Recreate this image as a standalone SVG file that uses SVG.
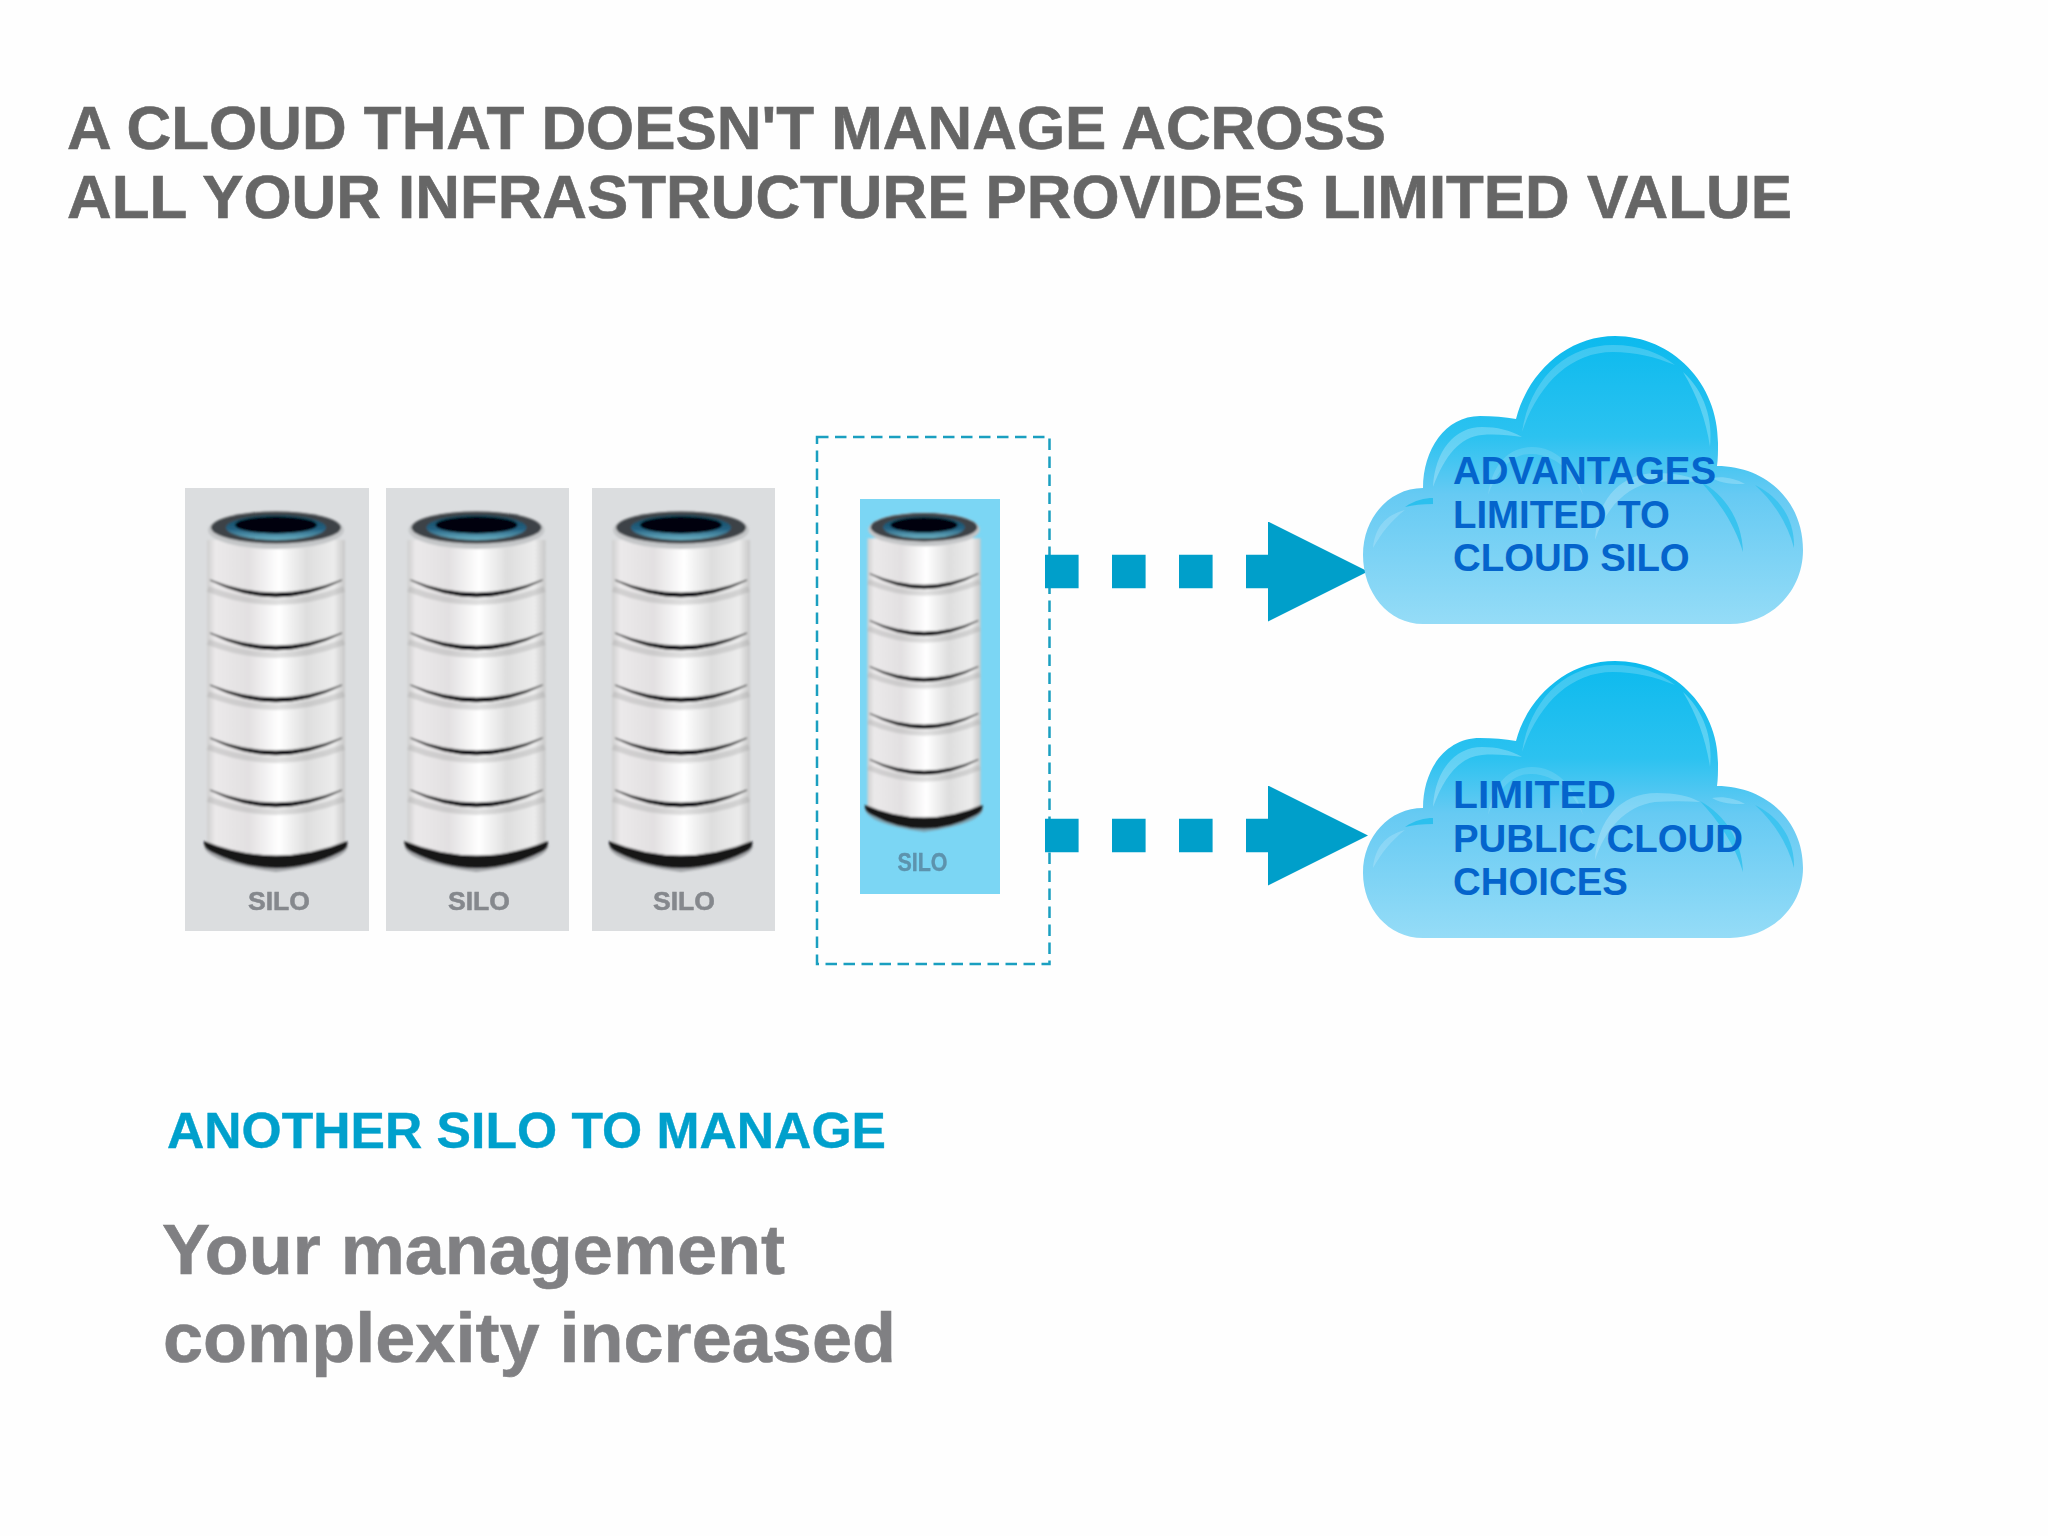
<svg xmlns="http://www.w3.org/2000/svg" xmlns:xlink="http://www.w3.org/1999/xlink" width="2048" height="1536" viewBox="0 0 2048 1536">
<style>
.t{font-family:"Liberation Sans",Arial,sans-serif;font-weight:700}
.title{font-size:61px;fill:#666666;stroke:#666666;stroke-width:.6}
.cl{font-size:38.4px;fill:#0464cc}
.sub{font-size:50px;fill:#00a0cc;stroke:#00a0cc;stroke-width:.4}
.big{font-size:71px;fill:#808083;stroke:#808083;stroke-width:.6}
.silo{font-size:25px;fill:#85888d;stroke:#85888d;stroke-width:.5}
.panel{fill:#dbdddf}
.flow{fill:none;stroke:#009fca;stroke-width:33.5;stroke-dasharray:33.6 33.4;marker-end:url(#head)}
.box{fill:none;stroke:#1a9fc0;stroke-width:2.5;stroke-dasharray:11.5 6.5}
</style>
<defs>
<marker id="head" markerUnits="userSpaceOnUse" viewBox="0 0 100 100" refX="0" refY="50" markerWidth="100" markerHeight="100" orient="auto"><path d="M0 0L100 50L0 100Z" fill="#009fca"/></marker>
<linearGradient id="metal" x1="0" x2="1" y1="0" y2="0">
<stop offset="0" stop-color="#cfcfcf"/><stop offset=".06" stop-color="#ebe9ea"/><stop offset=".3" stop-color="#e2e0e1"/><stop offset=".52" stop-color="#ffffff"/><stop offset=".72" stop-color="#dedede"/><stop offset=".92" stop-color="#ececec"/><stop offset="1" stop-color="#c8c8c8"/>
</linearGradient>
<linearGradient id="sky" x1="0" x2="0" y1="0" y2="1">
<stop offset="0" stop-color="#0cbaee"/><stop offset=".35" stop-color="#2cc2f0"/><stop offset=".55" stop-color="#66caf3"/><stop offset="1" stop-color="#95dcf7"/>
</linearGradient>
<linearGradient id="rim" x1="0" x2="0" y1="0" y2="1"><stop offset="0" stop-color="#134a5c"/><stop offset=".55" stop-color="#235f80"/><stop offset="1" stop-color="#6eb4c6"/></linearGradient>
<filter id="soft" x="-10%" y="-5%" width="120%" height="110%"><feGaussianBlur stdDeviation="1"/></filter>
<filter id="softer" x="-5%" y="-10%" width="110%" height="120%"><feGaussianBlur stdDeviation=".6"/></filter>
<g id="cyl" filter="url(#soft)">
<path d="M204 845Q276 888 348 845Q348 862 276 872Q204 862 204 845Z" fill="#7d7f82" opacity=".6"/>
<path d="M207 540H345V845Q276 882 207 845Z" fill="url(#metal)"/>
<g fill="none" stroke="#9a9a9a" stroke-width="6" opacity=".3">
<path d="M208 589Q276 615 344 589"/><path d="M208 642Q276 668 344 642"/><path d="M208 694Q276 720 344 694"/><path d="M208 747Q276 773 344 747"/><path d="M208 799Q276 825 344 799"/>
</g>
<g fill="#101012" stroke="#101012" stroke-width=".8">
<path d="M210 580Q276 606 342 580Q276 614 210 580Z"/><path d="M210 633Q276 659 342 633Q276 667 210 633Z"/><path d="M210 685Q276 711 342 685Q276 719 210 685Z"/><path d="M210 738Q276 764 342 738Q276 772 210 738Z"/><path d="M210 790Q276 816 342 790Q276 824 210 790Z"/>
</g>
<path d="M204 841Q276 870 347 841Q349 848 340 852Q276 884 212 852Q203 848 204 841Z" fill="#131316"/>
<ellipse cx="276" cy="530" rx="68" ry="19" fill="#c4c6c8"/>
<ellipse cx="276" cy="527.5" rx="65" ry="16" fill="#3e4246"/>
<ellipse cx="276" cy="527.5" rx="50" ry="12.5" fill="url(#rim)"/>
<ellipse cx="276" cy="525" rx="41" ry="8.5" fill="#01040a"/>
</g>
<g id="shine">
<path d="M1522 432C1530 380 1565 345 1613 345C1640 345 1660 353 1675 365C1655 357 1635 352 1613 352C1570 352 1538 385 1522 432Z" fill="#fff" opacity=".2"/>
<path d="M1683 372C1705 392 1713 420 1710 447C1706 420 1697 395 1683 372Z" fill="#7fdcf5" opacity=".6"/>
<path d="M1433 487C1435 450 1455 427 1482 427C1497 427 1510 430 1522 437C1508 435 1495 434 1482 435C1460 437 1445 455 1433 487Z" fill="#fff" opacity=".25"/>
<path d="M1488 495C1492 465 1508 447 1532 447C1555 447 1575 465 1583 495C1572 470 1555 455 1532 454C1512 453 1498 470 1488 495Z" fill="#fff" opacity=".13"/>
<path d="M1595 540C1597 500 1620 473 1657 473C1675 473 1690 476 1700 482C1685 481 1670 481 1655 482C1625 486 1605 510 1595 540Z" fill="#fff" opacity=".22"/>
<path d="M1700 481C1725 495 1742 520 1743 552C1735 525 1718 500 1700 481Z" fill="#2cc0ee" opacity=".8"/>
<path d="M1712 478C1722 476 1735 478 1745 484C1733 484 1722 484 1712 478Z" fill="#fff" opacity=".22"/>
<path d="M1755 485C1780 497 1795 520 1794 548C1788 525 1775 503 1755 485Z" fill="#2cc0ee" opacity=".7"/>
<path d="M1373 548C1375 528 1385 515 1405 510C1392 520 1382 532 1373 548Z" fill="#fff" opacity=".18"/>
<path d="M1405 507C1415 500 1425 498 1433 498L1433 504C1422 504 1413 505 1405 507Z" fill="#2cc0ee"/>
</g>
</defs>
<rect width="2048" height="1536" fill="#fefefe"/>
<g id="title">
<text class="t title" x="67" y="149" textLength="1319" lengthAdjust="spacingAndGlyphs">A CLOUD THAT DOESN'T MANAGE ACROSS</text>
<text class="t title" x="67" y="218" textLength="1725" lengthAdjust="spacingAndGlyphs">ALL YOUR INFRASTRUCTURE PROVIDES LIMITED VALUE</text>
</g>
<g id="silo-1">
<rect class="panel" x="185" y="488" width="184" height="443"/>
<use xlink:href="#cyl" href="#cyl"/>
<text class="t silo" x="279" y="910" text-anchor="middle" textLength="62" lengthAdjust="spacingAndGlyphs" filter="url(#softer)">SILO</text>
</g>
<g id="silo-2">
<rect class="panel" x="386" y="488" width="183" height="443"/>
<use xlink:href="#cyl" href="#cyl" x="200.5"/>
<text class="t silo" x="479" y="910" text-anchor="middle" textLength="62" lengthAdjust="spacingAndGlyphs" filter="url(#softer)">SILO</text>
</g>
<g id="silo-3">
<rect class="panel" x="592" y="488" width="183" height="443"/>
<use xlink:href="#cyl" href="#cyl" x="405"/>
<text class="t silo" x="684" y="910" text-anchor="middle" textLength="62" lengthAdjust="spacingAndGlyphs" filter="url(#softer)">SILO</text>
</g>
<g id="silo-4">
<rect class="box" x="817" y="437" width="232.5" height="527"/>
<rect x="860" y="499" width="140" height="395" fill="#7bd6f4"/>
<use xlink:href="#cyl" href="#cyl" transform="translate(697.7 60.4) scale(.82 .885)"/>
<text class="t" x="922.5" y="871" text-anchor="middle" font-size="25" fill="#5d93ad" stroke="#5d93ad" stroke-width=".4" textLength="50" lengthAdjust="spacingAndGlyphs" filter="url(#softer)">SILO</text>
</g>
<g id="connectors">
<line class="flow" x1="1045" y1="571.5" x2="1268" y2="571.5"/>
<line class="flow" x1="1045" y1="835.5" x2="1268" y2="835.5"/>
</g>
<g id="cloud-1">
<path d="M1423 624C1388 624 1363 592 1363 555C1363 517 1390 488 1423 488C1423 450 1445 416 1480 416C1493 416 1505 417 1516 419C1528 372 1568 336 1615 336C1672 336 1718 383 1718 443C1718 452 1718 459 1717 466C1765 466 1803 500 1803 550C1803 592 1770 624 1730 624Z" fill="url(#sky)"/>
<use xlink:href="#shine" href="#shine"/>
<text class="t cl" x="1453" y="484">ADVANTAGES</text>
<text class="t cl" x="1453" y="528">LIMITED TO</text>
<text class="t cl" x="1453" y="571">CLOUD SILO</text>
</g>
<g id="cloud-2">
<path d="M1423 938C1388 938 1363 908 1363 873C1363 836 1390 808 1423 808C1423 770 1445 738 1480 738C1493 738 1505 739 1516 741C1528 696 1568 661 1615 661C1672 661 1718 706 1718 763C1718 772 1718 779 1717 786C1765 786 1803 820 1803 868C1803 908 1770 938 1730 938Z" fill="url(#sky)"/>
<use xlink:href="#shine" href="#shine" y="320"/>
<text class="t cl" x="1453" y="808" textLength="163" lengthAdjust="spacingAndGlyphs">LIMITED</text>
<text class="t cl" x="1453" y="852">PUBLIC CLOUD</text>
<text class="t cl" x="1453" y="895">CHOICES</text>
</g>
<g id="caption">
<text class="t sub" x="167" y="1148" textLength="719" lengthAdjust="spacingAndGlyphs">ANOTHER SILO TO MANAGE</text>
<text class="t big" x="162" y="1274" textLength="623" lengthAdjust="spacingAndGlyphs">Your management</text>
<text class="t big" x="163" y="1362" textLength="733" lengthAdjust="spacingAndGlyphs">complexity increased</text>
</g>
</svg>
